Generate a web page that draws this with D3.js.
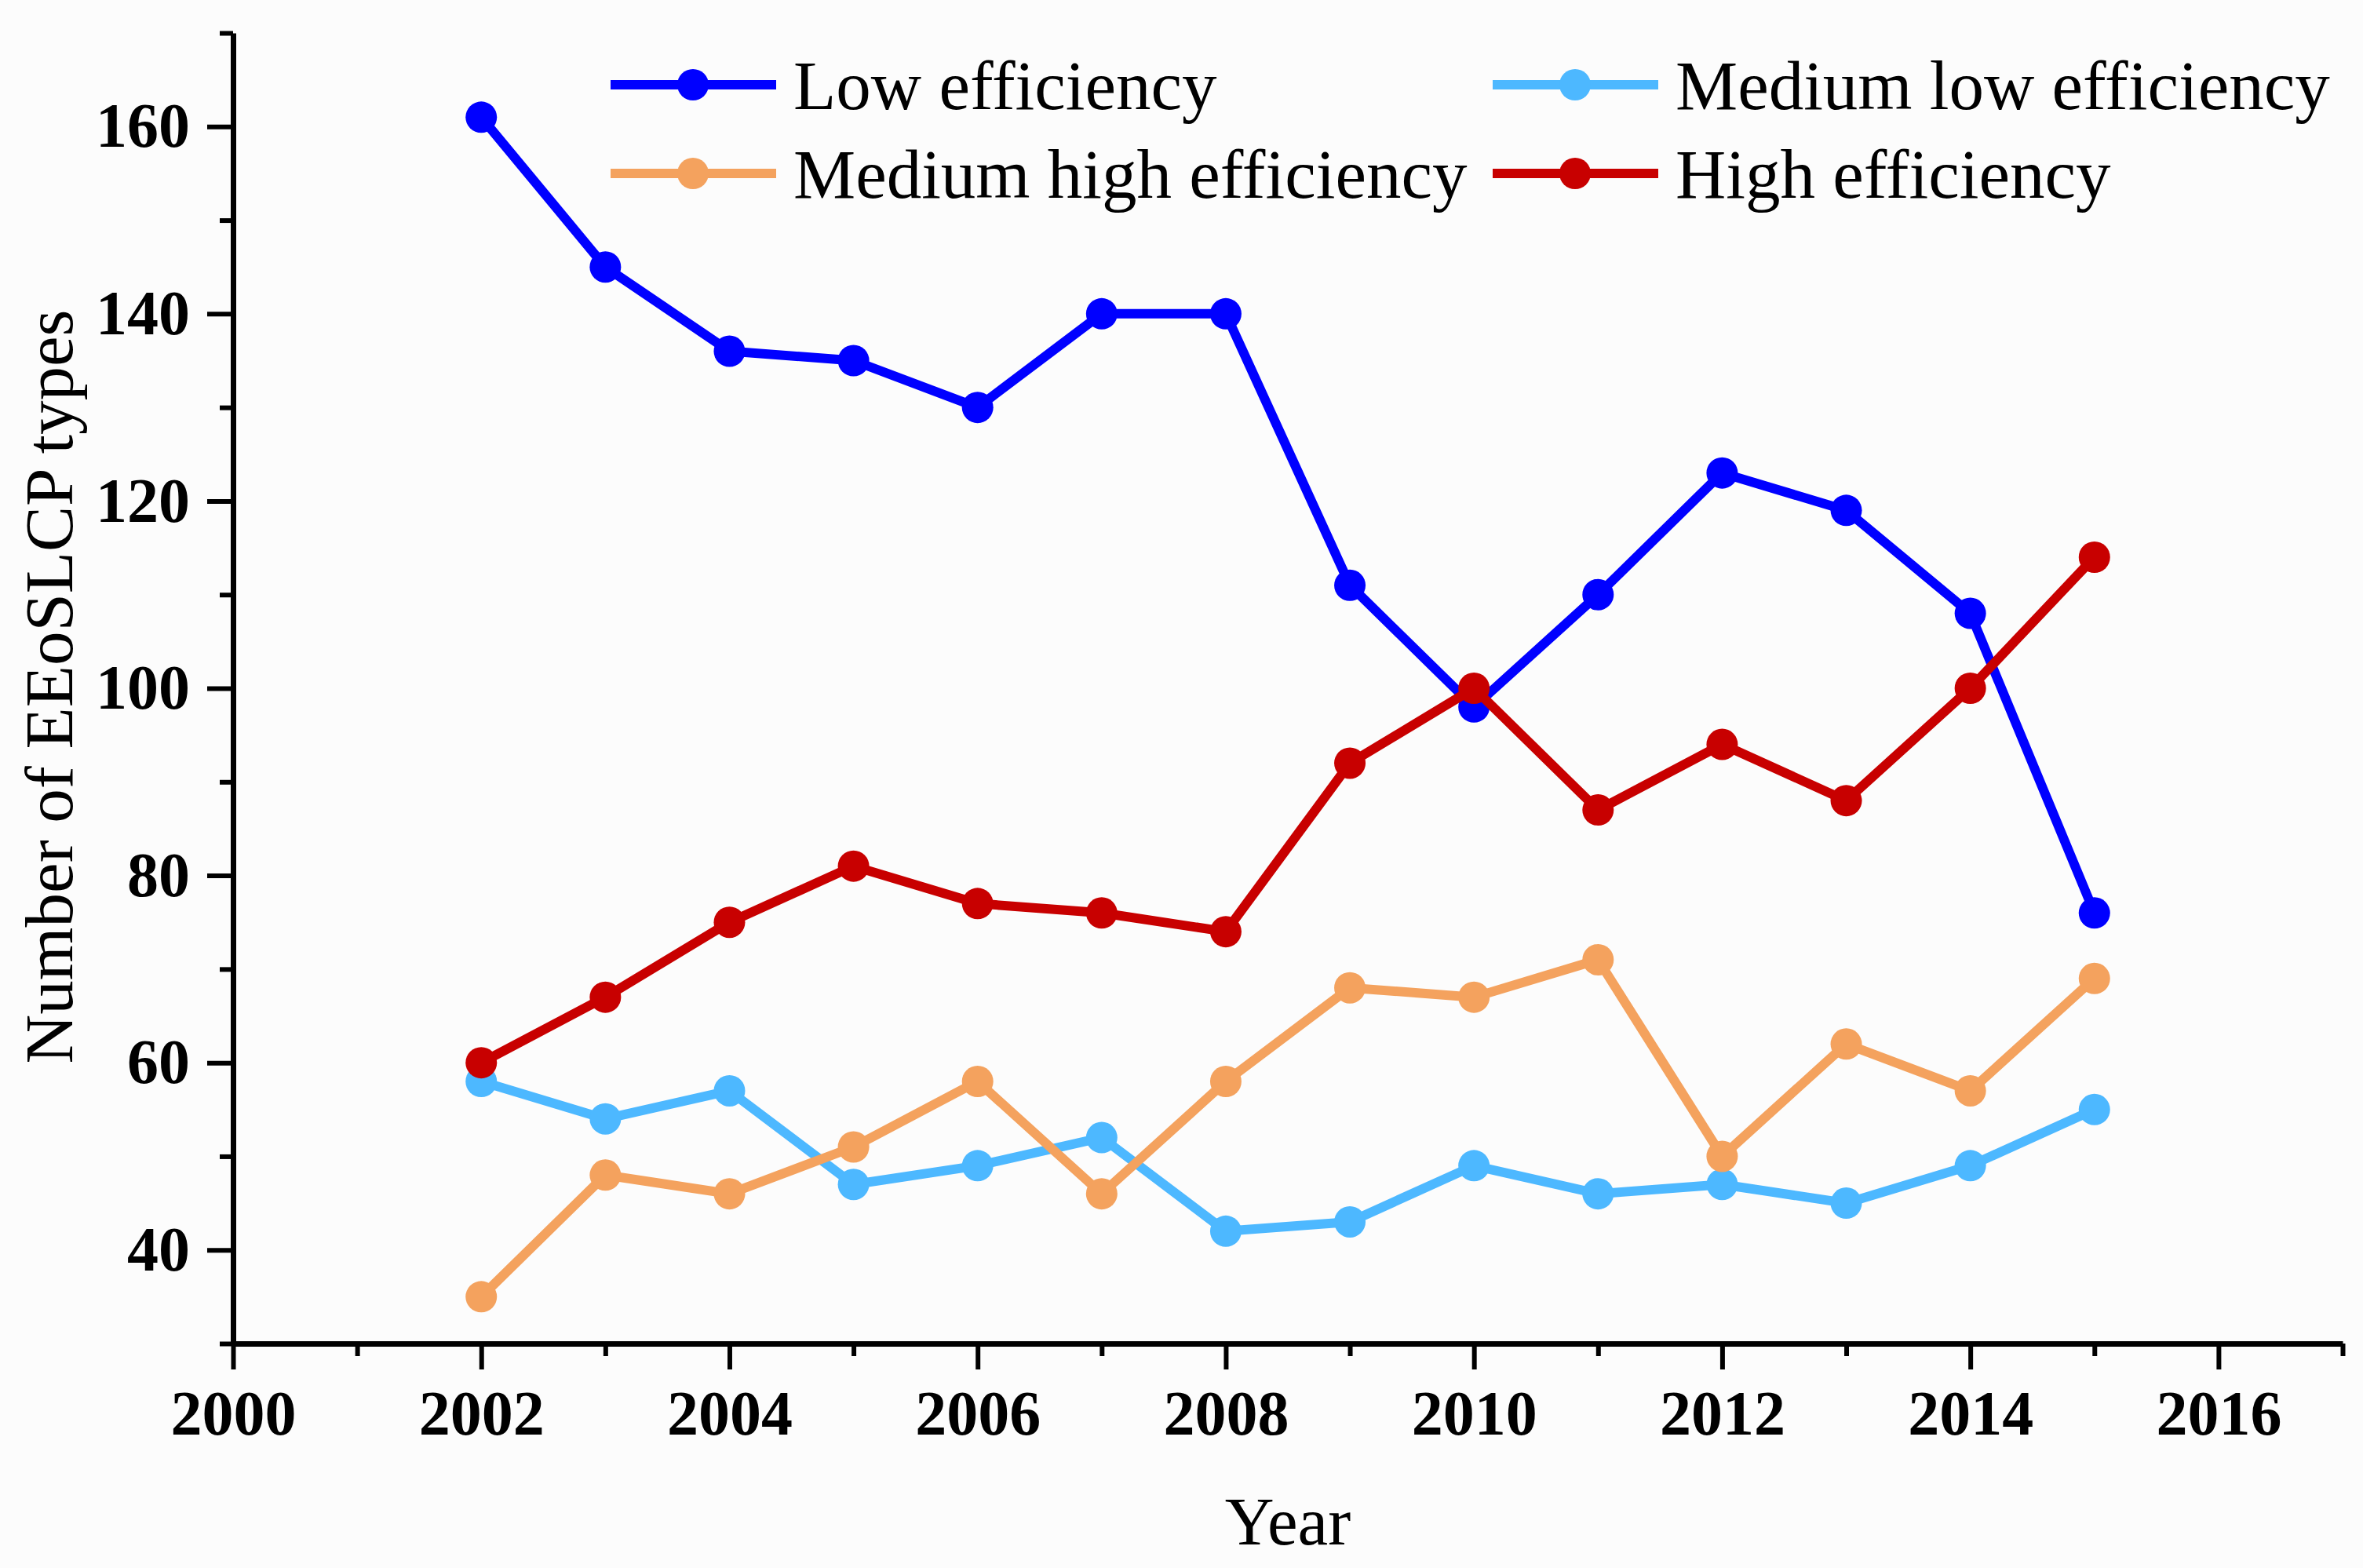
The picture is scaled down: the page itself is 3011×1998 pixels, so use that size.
<!DOCTYPE html>
<html>
<head>
<meta charset="utf-8">
<script src="https://cdn.jsdelivr.net/npm/d3@7"></script>
<style>
  body { margin: 0; background: #fcfcfc; }
  svg { display: block; }
</style>
</head>
<body>
<svg id="chart" width="3011" height="1998"></svg>
<script>
// values
const years = [2002, 2003, 2004, 2005, 2006, 2007, 2008, 2009, 2010, 2011, 2012, 2013, 2014, 2015];
const lowEff = [161, 145, 136, 135, 130, 140, 140, 111, 98, 110, 123, 119, 108, 76];
const medLowEff = [58, 54, 57, 47, 49, 52, 42, 43, 49, 46, 47, 45, 49, 55];
const medHighEff = [35, 48, 46, 51, 58, 46, 58, 68, 67, 71, 50, 62, 57, 69];
const highEff = [60, 67, 75, 81, 77, 76, 74, 92, 100, 87, 94, 88, 100, 114];

const seriesNames = ["Low efficiency", "Medium low efficiency", "Medium high efficiency", "High efficiency"];
const seriesColors = ["#0000ff", "#4db8ff", "#f4a25e", "#c80000"];
const seriesValues = [lowEff, medLowEff, medHighEff, highEff];

const xTicks = [2000, 2002, 2004, 2006, 2008, 2010, 2012, 2014, 2016];
const yTicks = [40, 60, 80, 100, 120, 140, 160];

const svg = d3.select("#chart");
const font = "'Liberation Serif', 'Times New Roman', Times, serif";

const x = d3.scaleLinear().domain([2000, 2017]).range([297, 2985]);
const y = d3.scaleLinear().domain([30, 170]).range([1712, 42]);

// minor ticks
const xMinor = d3.range(2001, 2018, 2);
const yMinor = d3.range(30, 171, 20);

const axisX = svg.append("g").attr("transform", `translate(0,${y(30)})`);
axisX.append("g").attr("class", "minor")
  .call(d3.axisBottom(x).tickValues(xMinor).tickFormat("").tickSize(16));
axisX.append("g").attr("class", "major")
  .call(d3.axisBottom(x).tickValues(xTicks).tickFormat(d3.format("d")).tickSize(33).tickSizeOuter(0).tickPadding(26));

const axisY = svg.append("g").attr("transform", `translate(${x(2000)},0)`);
axisY.append("g").attr("class", "minor")
  .call(d3.axisLeft(y).tickValues(yMinor).tickFormat("").tickSize(17));
axisY.append("g").attr("class", "major")
  .call(d3.axisLeft(y).tickValues(yTicks).tickSize(33).tickSizeOuter(0).tickPadding(22));

svg.selectAll(".minor .domain").remove();
svg.selectAll(".domain").attr("stroke", "#000").attr("stroke-width", 7);
svg.selectAll(".tick line").attr("stroke", "#000").attr("stroke-width", 6);
svg.selectAll(".tick text")
  .attr("fill", "#000")
  .style("font-family", font)
  .style("font-weight", "bold")
  .style("font-size", "80px");

// lines and markers
const line = d3.line()
  .x((d, i) => x(years[i]))
  .y(d => y(d));

seriesValues.forEach((vals, k) => {
  const g = svg.append("g");
  g.append("path")
    .datum(vals)
    .attr("fill", "none")
    .attr("stroke", seriesColors[k])
    .attr("stroke-width", 12)
    .attr("stroke-linejoin", "round")
    .attr("d", line);
  g.selectAll("circle")
    .data(vals)
    .join("circle")
    .attr("cx", (d, i) => x(years[i]))
    .attr("cy", d => y(d))
    .attr("r", 20)
    .attr("fill", seriesColors[k]);
});

// legend, two columns
const legendPos = [
  { lx: 778, ly: 108 },
  { lx: 1902, ly: 108 },
  { lx: 778, ly: 221 },
  { lx: 1902, ly: 221 }
];
seriesNames.forEach((name, k) => {
  const p = legendPos[k];
  const g = svg.append("g").attr("transform", `translate(${p.lx},${p.ly})`);
  g.append("line")
    .attr("x1", 0).attr("x2", 211)
    .attr("stroke", seriesColors[k])
    .attr("stroke-width", 12);
  g.append("circle")
    .attr("cx", 105).attr("r", 20)
    .attr("fill", seriesColors[k]);
  g.append("text")
    .attr("x", 233)
    .attr("y", 31)
    .style("font-family", font)
    .style("font-size", "89px")
    .attr("fill", "#000")
    .text(name);
});

// axis titles
svg.append("text")
  .attr("x", 1641)
  .attr("y", 1968)
  .attr("text-anchor", "middle")
  .style("font-family", font)
  .style("font-size", "87px")
  .text("Year");

svg.append("text")
  .attr("transform", `translate(92,${(y(30) + y(170)) / 2 - 2}) rotate(-90)`)
  .attr("text-anchor", "middle")
  .style("font-family", font)
  .style("font-size", "87px")
  .text("Number of EEoSLCP types");
</script>
</body>
</html>
